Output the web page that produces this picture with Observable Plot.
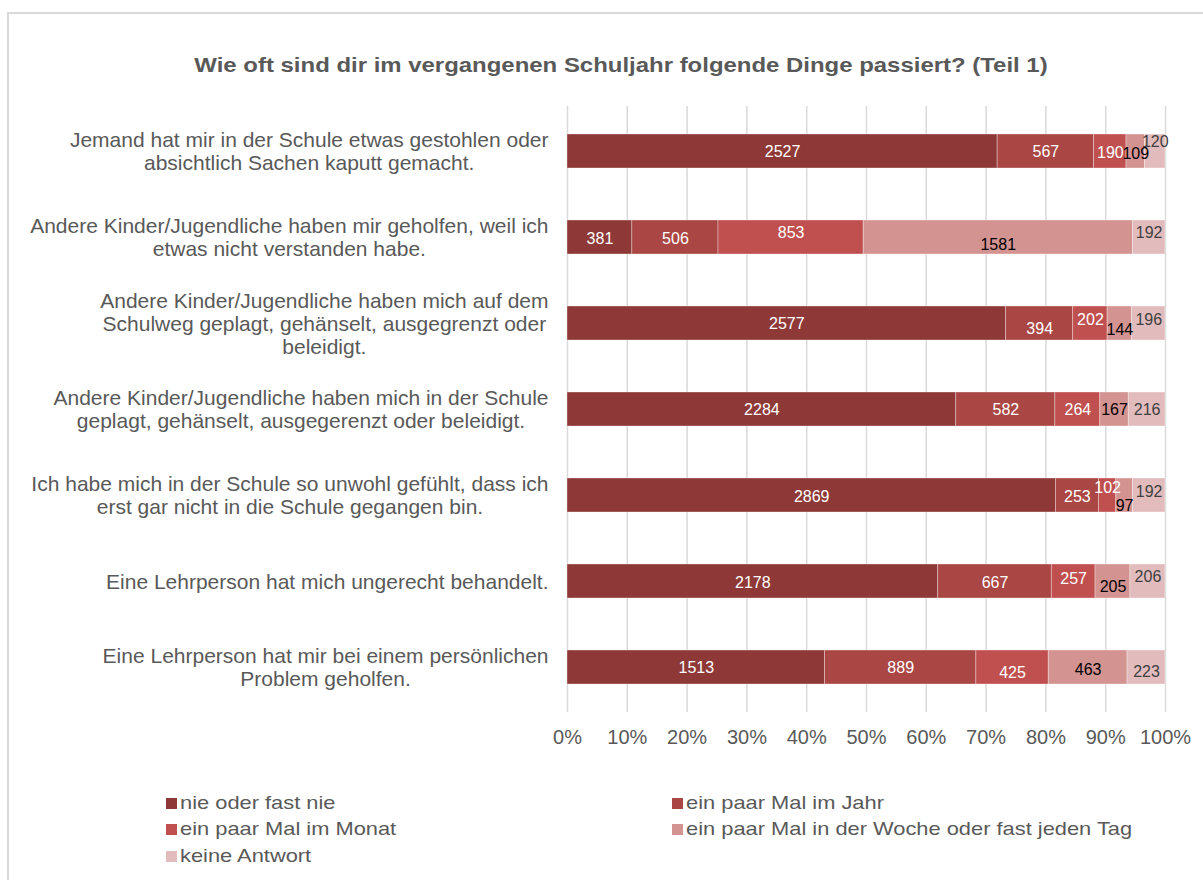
<!DOCTYPE html>
<html>
<head>
<meta charset="utf-8">
<script src="https://cdn.jsdelivr.net/npm/d3@7"></script>
<script src="https://cdn.jsdelivr.net/npm/@observablehq/plot@0.6"></script>
<style>
  html, body { margin: 0; padding: 0; background: #fff; }
  body { width: 1203px; height: 880px; position: relative; overflow: hidden; font-family: "Liberation Sans", Arial, sans-serif; }
  #frame { position: absolute; left: 7px; top: 12px; width: 1210px; height: 900px; border: 2px solid #d9d9d9; box-sizing: border-box; }
  #title { position: absolute; left: 36px; width: 1170px; top: 53px; text-align: center; font-weight: bold; font-size: 21px; color: #595959; transform: scaleX(1.14); transform-origin: center; white-space: nowrap; }
  #chart { position: absolute; left: 0; top: 0; }
  .leg { position: absolute; font-size: 19px; color: #595959; line-height: 22px; white-space: nowrap; }
  .leg span.sw { display: inline-block; width: 11px; height: 11px; margin-right: 3px; vertical-align: 0px; }
  .leg span.tx { display: inline-block; transform: scaleX(1.15); transform-origin: left center; }
</style>
</head>
<body>
<div id="frame"></div>
<div id="title">Wie oft sind dir im vergangenen Schuljahr folgende Dinge passiert? (Teil 1)</div>
<div id="chart"></div>
<div id="legend"></div>
<script>
// ---------- data ----------
const categories = [
  "Jemand hat mir in der Schule etwas gestohlen oder absichtlich Sachen kaputt gemacht.",
  "Andere Kinder/Jugendliche haben mir geholfen, weil ich etwas nicht verstanden habe.",
  "Andere Kinder/Jugendliche haben mich auf dem Schulweg geplagt, gehänselt, ausgegrenzt oder beleidigt.",
  "Andere Kinder/Jugendliche haben mich in der Schule geplagt, gehänselt, ausgegerenzt oder beleidigt.",
  "Ich habe mich in der Schule so unwohl gefühlt, dass ich erst gar nicht in die Schule gegangen bin.",
  "Eine Lehrperson hat mich ungerecht behandelt.",
  "Eine Lehrperson hat mir bei einem persönlichen Problem geholfen."
];
const categoryLines = [
  ["Jemand hat mir in der Schule etwas gestohlen oder", "absichtlich Sachen kaputt gemacht."],
  ["Andere Kinder/Jugendliche haben mir geholfen, weil ich", "etwas nicht verstanden habe."],
  ["Andere Kinder/Jugendliche haben mich auf dem", "Schulweg geplagt, gehänselt, ausgegrenzt oder", "beleidigt."],
  ["Andere Kinder/Jugendliche haben mich in der Schule", "geplagt, gehänselt, ausgegerenzt oder beleidigt."],
  ["Ich habe mich in der Schule so unwohl gefühlt, dass ich", "erst gar nicht in die Schule gegangen bin."],
  ["Eine Lehrperson hat mich ungerecht behandelt."],
  ["Eine Lehrperson hat mir bei einem persönlichen", "Problem geholfen."]
];
const seriesNames = [
  "nie oder fast nie",
  "ein paar Mal im Jahr",
  "ein paar Mal im Monat",
  "ein paar Mal in der Woche oder fast jeden Tag",
  "keine Antwort"
];
const nieOderFastNie = [2527, 381, 2577, 2284, 2869, 2178, 1513];
const proJahr        = [567, 506, 394, 582, 253, 667, 889];
const proMonat       = [190, 853, 202, 264, 102, 257, 425];
const proWoche       = [109, 1581, 144, 167, 97, 205, 463];
const keineAntwort   = [120, 192, 196, 216, 192, 206, 223];
const xTicks = [0, 0.1, 0.2, 0.3, 0.4, 0.5, 0.6, 0.7, 0.8, 0.9, 1];

// ---------- styles ----------
const colors = ["#8E3937", "#AA4644", "#C0504F", "#D39391", "#E2BCBC"];
const labelColors = ["#ffffff", "#ffffff", "#ffffff", "#000000", "#404040"];
// label vertical nudges (px) imitating the reference's label placement
const labelNudge = [
  [0, 0, 1, 2, -10],
  [1, 1, -5, 7, -5],
  [0, 5, -4, 6, -4],
  [0, 0, 0, 0, 0],
  [1, 1, -8, 10, -4],
  [1, 1, -3, 5, -5],
  [0, 0, 5, 2, 4]
];
const FONT = "'Liberation Sans', Arial, sans-serif";
const Y_FONT_SIZE = 21;

// ---------- build table ----------
const seriesValues = [nieOderFastNie, proJahr, proMonat, proWoche, keineAntwort];
const table = [];
categories.forEach((cat, i) => {
  const total = d3.sum(seriesValues, s => s[i]);
  let acc = 0;
  seriesValues.forEach((s, j) => {
    const v = s[i];
    const x1 = acc / total;
    acc += v;
    const x2 = acc / total;
    table.push({cat, series: seriesNames[j], j, i, value: v, x1, x2, xm: (x1 + x2) / 2, nudge: labelNudge[i][j]});
  });
});

// measure label widths
const ctx = document.createElement("canvas").getContext("2d");
ctx.font = Y_FONT_SIZE + "px " + FONT;
const yLabelMarks = categories.map((cat, i) => {
  const lines = categoryLines[i];
  const w = d3.max(lines, l => ctx.measureText(l).width);
  return Plot.text([cat], {
    y: d => d,
    frameAnchor: "left",
    text: () => lines.join("\n"),
    textAnchor: "middle",
    dx: -(19 + w / 2),
    lineHeight: 1.1,
    fontSize: Y_FONT_SIZE,
    fill: "#595959"
  });
});

// value label marks grouped by nudge
const nudges = Array.from(new Set(table.map(d => d.nudge)));
const valueLabelMarks = nudges.map(n => Plot.text(table.filter(d => d.nudge === n), {
  x: "xm",
  y: "cat",
  text: d => String(d.value),
  fill: d => labelColors[d.j],
  dy: n,
  fontSize: 16
}));

const chart = Plot.plot({
  width: 1203,
  height: 760,
  marginLeft: 567,
  marginRight: 38,
  marginTop: 106,
  marginBottom: 48,
  style: {fontFamily: FONT, background: "transparent", overflow: "visible"},
  x: {domain: [0, 1], axis: null},
  y: {domain: categories, paddingInner: 0.6, paddingOuter: 0.3, axis: null},
  color: {domain: seriesNames, range: colors},
  marks: [
    Plot.gridX(xTicks, {stroke: "#d9d9d9", strokeOpacity: 1, strokeWidth: 1.5}),
    Plot.barX(table, {x1: "x1", x2: "x2", y: "cat", fill: "series", stroke: "#ffffff", strokeOpacity: 0.45, strokeWidth: 0.75}),
    Plot.axisX(xTicks, {tickFormat: d => Math.round(d * 100) + "%", tickSize: 0, tickPadding: 17, fontSize: 20, fill: "#595959"}),
    ...valueLabelMarks,
    ...yLabelMarks
  ]
});
document.getElementById("chart").appendChild(chart);

// legend
const legendPos = [[166, 792], [672, 792], [166, 818], [672, 818], [166, 845]];
const legend = document.getElementById("legend");
seriesNames.forEach((name, j) => {
  const div = document.createElement("div");
  div.className = "leg";
  div.style.left = legendPos[j][0] + "px";
  div.style.top = legendPos[j][1] + "px";
  const sw = document.createElement("span");
  sw.className = "sw";
  sw.style.background = colors[j];
  div.appendChild(sw);
  const tx = document.createElement("span");
  tx.className = "tx";
  tx.textContent = name;
  div.appendChild(tx);
  legend.appendChild(div);
});
</script>
</body>
</html>
